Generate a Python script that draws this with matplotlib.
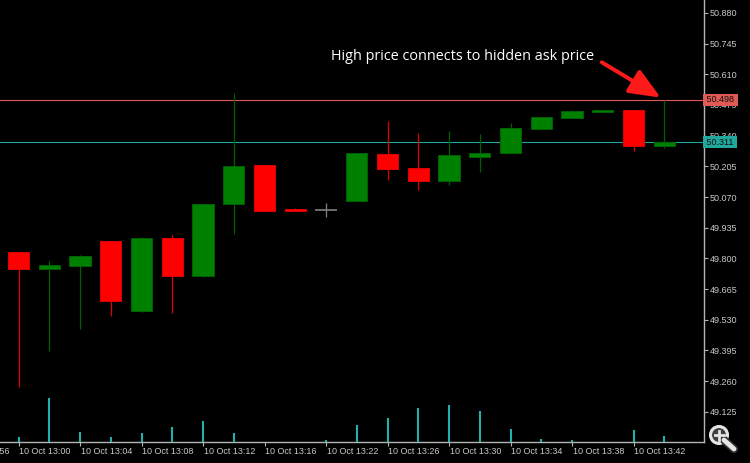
import matplotlib.pyplot as plt
from matplotlib.patches import Circle
from matplotlib.lines import Line2D
from matplotlib.transforms import blended_transform_factory

# M2 bars, 10 Oct (one bar missing between 13:16 and 13:22)
BAR_TIMES = ["13:00", "13:02", "13:04", "13:06", "13:08", "13:10", "13:12", "13:14",
             "13:16", "13:18", "13:22", "13:24", "13:26", "13:28", "13:30", "13:32",
             "13:34", "13:36", "13:38", "13:40", "13:42", "13:44"]
OPEN = [49.829, 49.755, 49.768, 49.877, 49.568, 49.890, 49.724, 50.038, 50.210, 50.016, 50.012,
        50.054, 50.261, 50.198, 50.139, 50.245, 50.262, 50.371, 50.418, 50.444, 50.453, 50.295]
HIGH = [49.829, 49.787, 49.813, 49.877, 49.896, 49.903, 50.038, 50.529, 50.210, 50.022, 50.045,
        50.265, 50.405, 50.353, 50.362, 50.346, 50.397, 50.422, 50.452, 50.453, 50.453, 50.498]
LOW = [49.235, 49.394, 49.488, 49.546, 49.566, 49.560, 49.717, 49.906, 50.009, 50.009, 49.983,
       50.054, 50.144, 50.102, 50.122, 50.181, 50.262, 50.371, 50.418, 50.444, 50.274, 50.287]
CLOSE = [49.753, 49.771, 49.809, 49.614, 49.890, 49.724, 50.038, 50.207, 50.009, 50.009, 50.012,
         50.265, 50.195, 50.139, 50.256, 50.265, 50.374, 50.422, 50.447, 50.453, 50.295, 50.311]
VOLUME = [5, 44, 10, 5, 9, 15, 21, 9, 0, 0, 2, 17, 24, 34, 37, 31, 13, 3, 2, 0, 12, 6]

X_TICK_POS = [-2, 0, 2, 4, 6, 8, 10, 12, 14, 16, 18, 20]
X_TICK_LABELS = ["10 Oct 12:56", "10 Oct 13:00", "10 Oct 13:04", "10 Oct 13:08",
                 "10 Oct 13:12", "10 Oct 13:16", "10 Oct 13:22", "10 Oct 13:26",
                 "10 Oct 13:30", "10 Oct 13:34", "10 Oct 13:38", "10 Oct 13:42"]
Y_TICKS = [49.125, 49.260, 49.395, 49.530, 49.665, 49.800, 49.935, 50.070,
           50.205, 50.340, 50.475, 50.610, 50.745, 50.880]

ASK_PRICE = 50.498
BID_PRICE = CLOSE[-1]
NOTE = "High price connects to hidden ask price"

BULL, BULL_EDGE, BEAR, DOJI = "#008000", "#006000", "#ff0000", "#808080"
AXIS_COLOR, LABEL_COLOR = "#b4b4b4", "#c8c8c8"
ASK_COLOR, BID_COLOR, VOL_COLOR = "#e05a55", "#20a89c", "#20b2aa"

fig = plt.figure(figsize=(7.5, 4.63), dpi=100, facecolor="black")
ax = fig.add_axes([0, 21 / 463, 704 / 750, 442 / 463], facecolor="black")
vol_ax = ax.twinx()
vol_ax.set_ylim(0, 442)
vol_ax.axis("off")
vol_ax.vlines(range(len(VOLUME)), 0, VOLUME, color=VOL_COLOR, linewidth=1.5)

body_w = 0.69
for i, (o, h, l, c) in enumerate(zip(OPEN, HIGH, LOW, CLOSE)):
    if c > o:
        face, edge, wick = BULL, BULL_EDGE, BULL_EDGE
    elif c < o:
        face, edge, wick = BEAR, "#e00000", "#e00000"
    else:
        face, edge, wick = DOJI, DOJI, DOJI
    ax.vlines(i, l, h, color=wick, linewidth=0.9, zorder=2)
    if c == o:
        ax.hlines(o, i - body_w / 2, i + body_w / 2, color=DOJI, linewidth=1.2, zorder=3)
    else:
        ax.bar(i, abs(c - o), bottom=min(o, c), width=body_w, color=face,
               edgecolor=edge, linewidth=0.7, zorder=3)

ax.axhline(ASK_PRICE, color=ASK_COLOR, linewidth=0.8, zorder=1)
ax.axhline(BID_PRICE, color=BID_COLOR, linewidth=0.8, zorder=1)

for side in ["top", "left"]:
    ax.spines[side].set_visible(False)
for side in ["right", "bottom"]:
    ax.spines[side].set_color(AXIS_COLOR)
    ax.spines[side].set_linewidth(1.0)

ax.yaxis.tick_right()
ax.set_yticks(Y_TICKS)
ax.set_yticklabels([f"{v:.3f}" for v in Y_TICKS])
ax.set_xticks(X_TICK_POS)
ax.set_xticklabels([])
ax.tick_params(axis="y", colors=AXIS_COLOR, labelcolor=LABEL_COLOR, length=3, width=0.8,
               pad=1, labelsize=6.5, direction="out")
ax.tick_params(axis="x", colors=AXIS_COLOR, length=3, width=0.8, direction="out")
for lbl in ax.get_yticklabels():
    lbl.set_fontfamily("Liberation Sans")

# set limits after the ticks so the off-screen 12:56 tick does not widen the view
ax.set_xlim(-18.5 / 30.75, (704 - 18.5) / 30.75)
ax.set_ylim(48.992, 50.937)

# time labels start at their tick, like the terminal draws them
time_trans = blended_transform_factory(ax.transData, ax.transAxes)
for pos, label in zip(X_TICK_POS, X_TICK_LABELS):
    ax.text(pos + 0.03, -9.5 / 442, label, transform=time_trans, ha="left", va="center",
            fontsize=6.5, family="Liberation Sans", color=LABEL_COLOR, clip_on=False)

# price tags on the right scale
edge_trans = blended_transform_factory(ax.transAxes, ax.transData)
for price, color in [(ASK_PRICE, ASK_COLOR), (BID_PRICE, BID_COLOR)]:
    ax.text(1.0, price, f" {price:.3f} ", transform=edge_trans, ha="left", va="center",
            fontsize=6.5, family="Liberation Sans", color="#101010", zorder=10, clip_on=False,
            bbox=dict(boxstyle="square,pad=0.15", facecolor=color, edgecolor="none"))

# note and arrow pointing at the last bar's high
fig.text(331 / 750, 1 - 59.5 / 463, NOTE, color="white", fontsize=10.4,
         family="Open Sans", va="baseline", ha="left")
ax.annotate("", xy=(len(CLOSE) - 1, HIGH[-1]), xytext=(-45, 27), textcoords="offset points",
            annotation_clip=False,
            arrowprops=dict(arrowstyle="-|>,head_length=0.95,head_width=0.4", color="#ff1a1a",
                            linewidth=2.8, mutation_scale=20, shrinkA=0, shrinkB=3))

# magnifier button in the corner
inch = fig.dpi_scale_trans
cx, cy = 7.19, (463 - 435) / 100
fig.add_artist(Line2D([cx + 0.05, cx + 0.15], [cy - 0.05, cy - 0.14], transform=inch,
                      color="#303030", linewidth=6, solid_capstyle="round"))
fig.add_artist(Line2D([cx + 0.05, cx + 0.15], [cy - 0.05, cy - 0.14], transform=inch,
                      color="#e6e6e6", linewidth=3.5, solid_capstyle="round"))
fig.add_artist(Circle((cx, cy), 0.085, transform=inch, facecolor="#404040",
                      edgecolor="#e6e6e6", linewidth=2.2))
fig.add_artist(Line2D([cx - 0.045, cx + 0.045], [cy, cy], transform=inch,
                      color="#e6e6e6", linewidth=2))
fig.add_artist(Line2D([cx, cx], [cy - 0.045, cy + 0.045], transform=inch,
                      color="#e6e6e6", linewidth=2))

fig.savefig("out.png", dpi=100, facecolor="black")
